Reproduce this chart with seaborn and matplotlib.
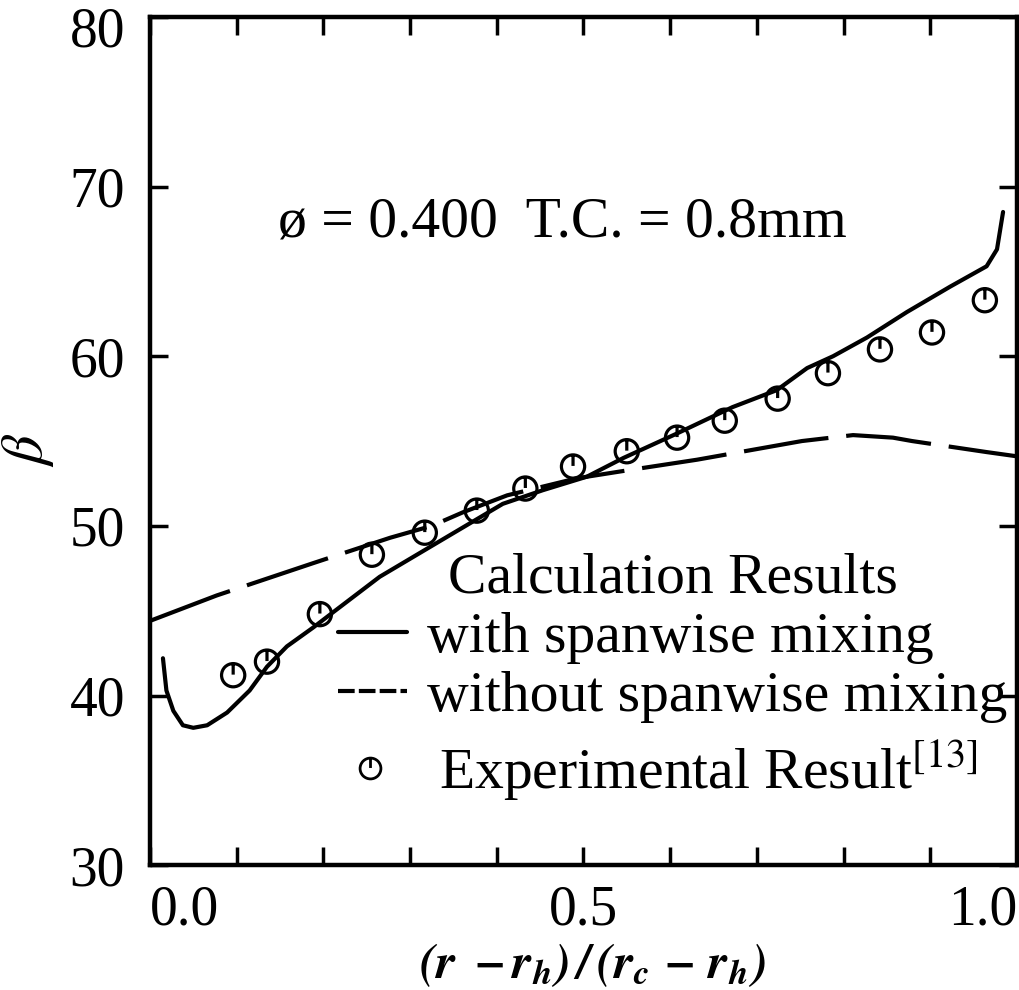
import numpy as np
import pandas as pd
import matplotlib
matplotlib.use("Agg")
import matplotlib.pyplot as plt
from matplotlib.path import Path
from matplotlib.lines import Line2D
from matplotlib.transforms import ScaledTranslation
import seaborn as sns

# ---- data ----
with_x = [0.015, 0.019, 0.027, 0.038, 0.050, 0.066, 0.089, 0.115, 0.135, 0.158,
          0.188, 0.211, 0.265, 0.331, 0.407, 0.453, 0.504, 0.546, 0.606, 0.672,
          0.723, 0.758, 0.788, 0.827, 0.873, 0.923, 0.965, 0.977, 0.984]
with_y = [42.2, 40.3, 39.1, 38.25, 38.1, 38.25, 39.0, 40.3, 41.7, 42.9,
          44.0, 44.9, 47.0, 49.0, 51.3, 52.1, 52.9, 54.0, 55.4, 57.0,
          58.0, 59.3, 60.0, 61.1, 62.6, 64.1, 65.3, 66.3, 68.5]

without_x = [0.0, 0.077, 0.188, 0.277, 0.325, 0.361, 0.412, 0.492, 0.554, 0.631,
             0.752, 0.811, 0.857, 0.879, 0.965, 1.0]
without_y = [44.4, 45.9, 47.8, 49.3, 50.0, 50.8, 51.8, 52.8, 53.3, 53.9,
             55.0, 55.35, 55.2, 55.0, 54.35, 54.1]

exp_x = [0.096, 0.135, 0.196, 0.256, 0.317, 0.377, 0.433, 0.488, 0.550, 0.608,
         0.663, 0.724, 0.782, 0.842, 0.902, 0.963]
exp_y = [41.2, 42.0, 44.8, 48.3, 49.6, 50.9, 52.2, 53.5, 54.4, 55.2,
         56.2, 57.5, 59.0, 60.4, 61.4, 63.3]

x_major = [0.0, 0.5, 1.0]
x_labels = ["0.0", "0.5", "1.0"]
x_minor = [0.1, 0.2, 0.3, 0.4, 0.6, 0.7, 0.8, 0.9]
y_major = [30, 40, 50, 60, 70, 80]

label_with = "with spanwise mixing"
label_without = "without spanwise mixing"
label_exp = "Experimental Result$^{[13]}$"
legend_title = "Calculation Results"
annotation = "ø = 0.400  T.C. = 0.8mm"
xlabel = r"$\mathbfit{(r\ -r_h)\,/\,(r_{c}\,-\,r_h)}$"
ylabel = r"$\beta$"

# ---- style ----
sns.set_style("ticks")
plt.rcParams["font.family"] = ["Liberation Serif", "DejaVu Serif"]
plt.rcParams["mathtext.fontset"] = "stix"
for k in ["text.color", "axes.labelcolor", "xtick.color", "ytick.color", "axes.edgecolor"]:
    plt.rcParams[k] = "black"

fig = plt.figure(figsize=(10.2, 9.9), dpi=100)
ax = fig.add_axes([0.147, 0.126, 0.850, 0.857])

df_with = pd.DataFrame({"x": with_x, "y": with_y})
df_without = pd.DataFrame({"x": without_x, "y": without_y})
df_exp = pd.DataFrame({"x": exp_x, "y": exp_y})

lw = 3.0
sns.lineplot(data=df_with, x="x", y="y", ax=ax, color="black", linewidth=lw)
sns.lineplot(data=df_without, x="x", y="y", ax=ax, color="black", linewidth=lw,
             linestyle=(0, (20.5, 4.3)))

circ = Path.unit_circle()
tick = Path([(0, 0.05), (0, 1.0)], [Path.MOVETO, Path.LINETO])
mpath = Path.make_compound_path(circ, tick)

sns.scatterplot(data=df_exp, x="x", y="y", ax=ax, marker=mpath, s=280,
                facecolor="none", edgecolor="black", linewidth=2.3, zorder=3)

ax.set_xlim(0.0, 1.0)
ax.set_ylim(30, 80)
ax.set_xticks(x_major)
ax.set_xticklabels(x_labels)
ax.set_xticks(x_minor, minor=True)
ax.set_yticks(y_major)

ax.tick_params(axis="both", which="both", direction="in", top=True, right=True,
               width=2.5, color="black")
ax.tick_params(axis="both", which="major", length=13, labelsize=40)
ax.tick_params(axis="x", which="minor", length=13)
ax.tick_params(axis="y", which="major", pad=18)
ax.tick_params(axis="x", which="major", pad=14)

lbls = ax.get_xticklabels()
lbls[0].set_ha("left")
lbls[-1].set_ha("right")

ylbls = ax.get_yticklabels()
top_lbl = ylbls[-1]
top_lbl.set_transform(top_lbl.get_transform() + ScaledTranslation(0, -10 / 100, fig.dpi_scale_trans))

for s in ax.spines.values():
    s.set_linewidth(3.2)
    s.set_color("black")

ax.set_xlabel(xlabel, fontsize=36)
ax.xaxis.label.set_va("center")
ax.xaxis.set_label_coords(0.51, -0.118)
ax.set_ylabel(ylabel, fontsize=42)
ax.yaxis.set_label_coords(-0.108, 0.49)

ax.text(0.148, 0.758, annotation, transform=ax.transAxes, fontsize=41.5,
        ha="left", va="center")

h_with = Line2D([], [], color="black", linewidth=lw)
h_without = Line2D([], [], color="black", linewidth=lw, linestyle=(0, (4.0, 1.0)))
leg1 = ax.legend([h_with, h_without], [label_with, label_without],
                 title=legend_title, loc="center", bbox_to_anchor=(0.603, 0.268),
                 frameon=False, fontsize=41.5, title_fontsize=41.5, handlelength=1.2,
                 handletextpad=0.35, labelspacing=0.12, borderpad=0.0, borderaxespad=0.0)
ax.add_artist(leg1)

h_exp = Line2D([], [], marker=mpath, linestyle="none", markerfacecolor="none",
               markeredgecolor="black", markersize=15, markeredgewidth=2.0)
leg2 = ax.legend([h_exp], [label_exp], loc="center", bbox_to_anchor=(0.588, 0.112),
                 frameon=False, fontsize=41.5, handlelength=1.0, handletextpad=0.7,
                 borderpad=0.0, borderaxespad=0.0)

fig.savefig("out.png", dpi=100)
